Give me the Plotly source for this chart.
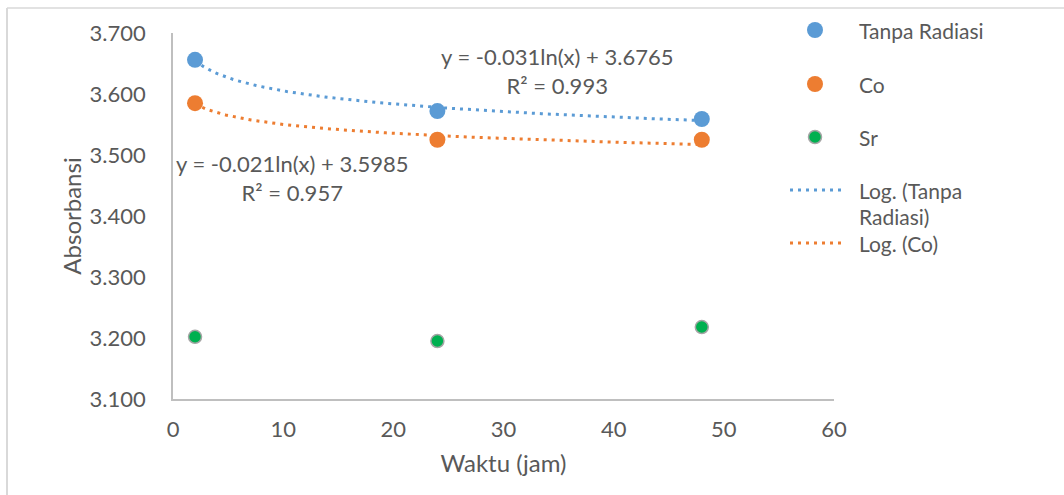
import numpy as np
import plotly.graph_objects as go

# Absorbance readings over time (hours)
waktu = [2, 24, 48]
tanpa_radiasi = [3.656, 3.572, 3.559]
co = [3.585, 3.525, 3.525]
sr = [3.202, 3.195, 3.218]

# Logarithmic trend coefficients: y = a*ln(x) + b
tanpa_a, tanpa_b, tanpa_r2 = -0.031, 3.6765, 0.993
co_a, co_b, co_r2 = -0.021, 3.5985, 0.957

x_ticks = [0, 10, 20, 30, 40, 50, 60]
y_ticks = [3.1, 3.2, 3.3, 3.4, 3.5, 3.6, 3.7]

legend_lines = ["Tanpa Radiasi", "Co", "Sr", "Log. (Tanpa", "Radiasi)", "Log. (Co)"]

BLUE = "#5B9BD5"
ORANGE = "#ED7D31"
GREEN = "#00B050"
TEXT = "#595959"
AXIS = "#BFBFBF"
FONT = "Lato"
W, H = 1064, 495

blue_marker = dict(color=BLUE, size=16)
orange_marker = dict(color=ORANGE, size=16)
green_marker = dict(color=GREEN, size=13, line=dict(color="#A5A5A5", width=1.5))
blue_dots = dict(color=BLUE, width=3, dash="3px,5px")
orange_dots = dict(color=ORANGE, width=3, dash="3px,5px")

xt = np.linspace(min(waktu), max(waktu), 200)

fig = go.Figure()

# Main chart
fig.add_trace(go.Scatter(x=xt, y=tanpa_a * np.log(xt) + tanpa_b, mode="lines",
                         line=blue_dots, showlegend=False))
fig.add_trace(go.Scatter(x=xt, y=co_a * np.log(xt) + co_b, mode="lines",
                         line=orange_dots, showlegend=False))
fig.add_trace(go.Scatter(x=waktu, y=tanpa_radiasi, mode="markers",
                         marker=blue_marker, name="Tanpa Radiasi", showlegend=False))
fig.add_trace(go.Scatter(x=waktu, y=co, mode="markers",
                         marker=orange_marker, name="Co", showlegend=False))
fig.add_trace(go.Scatter(x=waktu, y=sr, mode="markers",
                         marker=green_marker, name="Sr", showlegend=False))

fig.add_annotation(
    x=34.85, y=3.6385, xref="x", yref="y",
    text=f"y = {tanpa_a}ln(x) + {tanpa_b}<br>R² = {tanpa_r2}",
    showarrow=False, align="center", font=dict(size=22, color=TEXT, family=FONT),
)
fig.add_annotation(
    x=10.8, y=3.4615, xref="x", yref="y",
    text=f"y = {co_a}ln(x) + {co_b}<br>R² = {co_r2}",
    showarrow=False, align="center", font=dict(size=22, color=TEXT, family=FONT),
)

# Legend panel on a pixel-scaled overlay axis pair
leg_sym_x = 815
leg_line_x = [790, 843]
leg_text_x = 857
leg_sym_rows = [30, 84, 137, 190, 243]
leg_text_rows = [30, 84, 137, 190, 216, 243]

fig.add_trace(go.Scatter(x=[leg_sym_x], y=[leg_sym_rows[0]], mode="markers", marker=blue_marker,
                         xaxis="x2", yaxis="y2", showlegend=False, hoverinfo="skip"))
fig.add_trace(go.Scatter(x=[leg_sym_x], y=[leg_sym_rows[1]], mode="markers", marker=orange_marker,
                         xaxis="x2", yaxis="y2", showlegend=False, hoverinfo="skip"))
fig.add_trace(go.Scatter(x=[leg_sym_x], y=[leg_sym_rows[2]], mode="markers", marker=green_marker,
                         xaxis="x2", yaxis="y2", showlegend=False, hoverinfo="skip"))
fig.add_trace(go.Scatter(x=leg_line_x, y=[leg_sym_rows[3]] * 2, mode="lines", line=blue_dots,
                         xaxis="x2", yaxis="y2", showlegend=False, hoverinfo="skip"))
fig.add_trace(go.Scatter(x=leg_line_x, y=[leg_sym_rows[4]] * 2, mode="lines", line=orange_dots,
                         xaxis="x2", yaxis="y2", showlegend=False, hoverinfo="skip"))

for label, y_pos in zip(legend_lines, leg_text_rows):
    fig.add_annotation(x=leg_text_x, y=y_pos, xref="x2", yref="y2", text=label,
                       showarrow=False, xanchor="left", yanchor="middle", align="left",
                       font=dict(size=21, color=TEXT, family=FONT))

# Outer chart frame (left and top edges)
fig.add_shape(type="line", xref="x2", yref="y2", x0=7, x1=7, y0=8, y1=H,
              line=dict(color="#D9D9D9", width=2))
fig.add_shape(type="line", xref="x2", yref="y2", x0=7, x1=W, y0=8, y1=8,
              line=dict(color="#D9D9D9", width=1.5))

fig.update_layout(
    width=W, height=H,
    margin=dict(l=0, r=0, t=0, b=0, autoexpand=False),
    paper_bgcolor="white", plot_bgcolor="rgba(0,0,0,0)",
    font=dict(family=FONT, size=22, color=TEXT),
    showlegend=False,
    xaxis=dict(
        domain=[173 / W, 834 / W], anchor="y",
        range=[0, 60], tickvals=x_ticks, ticktext=[str(v) for v in x_ticks],
        showgrid=False, zeroline=False, showline=True,
        linecolor=AXIS, linewidth=1.5,
        ticks="outside", ticklen=10, tickcolor="rgba(0,0,0,0)",
        tickfont=dict(size=22, color=TEXT, family=FONT),
        title=dict(text="Waktu (jam)", font=dict(size=24, color=TEXT, family=FONT), standoff=14),
    ),
    yaxis=dict(
        domain=[96 / H, 462 / H], anchor="x",
        range=[3.1, 3.7], tickvals=y_ticks, ticktext=[f"{v:.3f}" for v in y_ticks],
        showgrid=False, zeroline=False, showline=True,
        linecolor=AXIS, linewidth=1.5,
        ticks="outside", ticklen=21, tickcolor="rgba(0,0,0,0)",
        tickfont=dict(size=22, color=TEXT, family=FONT),
        title=dict(text="Absorbansi", font=dict(size=24, color=TEXT, family=FONT), standoff=1),
    ),
    xaxis2=dict(domain=[0, 1], range=[0, W], anchor="y2", visible=False, fixedrange=True),
    yaxis2=dict(domain=[0, 1], range=[H, 0], anchor="x2", visible=False, fixedrange=True),
)

fig.write_html("out.html")
